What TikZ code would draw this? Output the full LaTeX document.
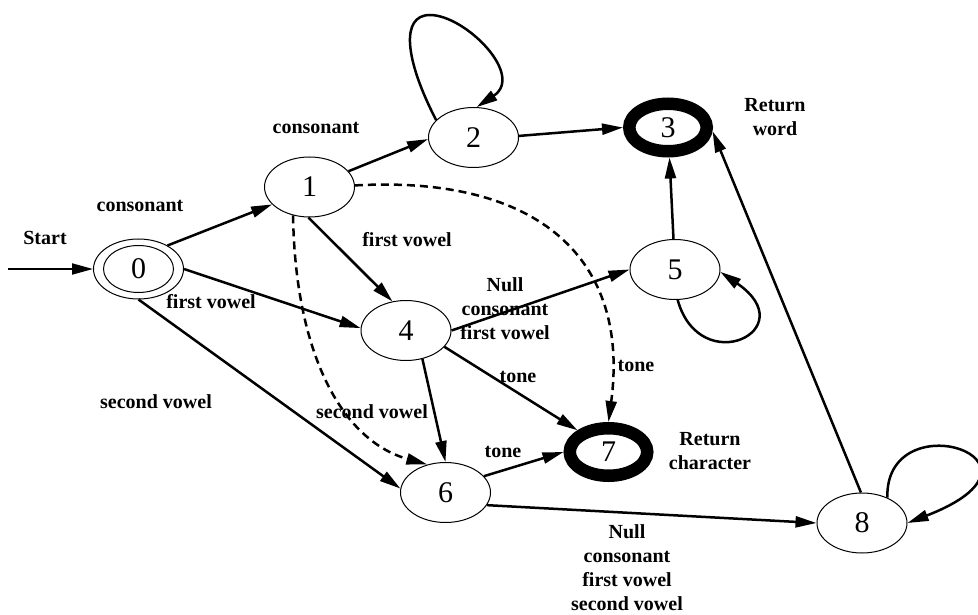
\documentclass[tikz,border=0pt]{standalone}
\usepackage{fontspec}
\setmainfont{Liberation Serif}
\usetikzlibrary{shapes.geometric,arrows.meta}
\begin{document}
\begin{tikzpicture}[x=1pt,y=-1pt,
  state/.style={ellipse,draw,line width=1pt,minimum width=90pt,minimum height=60pt,inner sep=0pt,font=\fontsize{30}{34}\selectfont},
  final/.style={ellipse,draw,line width=12.5pt,minimum width=77.5pt,minimum height=47.5pt,inner sep=0pt,font=\fontsize{30}{34}\selectfont},
  edge/.style={line width=2.5pt,-{Triangle[length=21pt,width=11pt]}},
  dedge/.style={edge,dash pattern=on 8pt off 5pt},
  lbl/.style={font=\bfseries\fontsize{20}{24}\selectfont,align=center,inner sep=0pt}]
\useasboundingbox (0,0) rectangle (978,615);
% states
\node[state] (n0) at (138.5,269) {0};
\draw[line width=1pt] (n0.center) ellipse (35 and 23.5);
\node[state] (n1) at (309.5,187) {1};
\node[state] (n2) at (473.5,137.5) {2};
\node[final] (n3) at (668,127.5) {3};
\node[state] (n4) at (406,330.5) {4};
\node[state] (n5) at (675,269.5) {5};
\node[state] (n6) at (445.5,492.5) {6};
\node[final] (n7) at (608.5,452) {7};
\node[state] (n8) at (862,523) {8};
\coordinate (s) at (8,269);
% edges
\draw[edge,line width=2pt] (s) -- (n0.west);
\draw[edge] (n0.39) -- (n1.205);
\draw[edge] (n0.0) -- (n4.177);
\draw[edge] (n0.270) -- (n6.175);
\draw[edge] (n1.22) -- (n2.182);
\draw[edge] (n1.268) -- (n4.115);
\draw[dedge] (n1.2) .. controls (540,175) and (630,260) .. (n7.north);
\draw[dedge] (n1.240) .. controls (295,350) and (340,440) .. (n6.123);
\draw[edge] (n2.155) .. controls (405,60) and (400,15) .. (430,15) .. controls (465,15) and (525,75) .. (n2.84);
\draw[edge] (n2.2) -- (n3.west);
\draw[edge] (n5) -- (n3);
\draw[edge] (n8.92) -- (n3.355);
\draw[edge] (n4.0) -- (n5.west);
\draw[edge] (n4.300) -- (n6.north);
\draw[edge] (n4.337) -- (n7.145);
\draw[edge] (n5.275) .. controls (700,380) and (805,330) .. (n5.357);
\draw[edge] (n6.23) -- (n7.west);
\draw[edge] (n6.343) -- (n8.west);
\draw[edge] (n8.45) .. controls (885,400) and (1070,460) .. (n8.0);
% labels
\node[lbl] (lstart) at (45,238) {Start};
\node[lbl] (lc1) at (140,206) {consonant};
\node[lbl] (lc2) at (316,128) {consonant};
\node[lbl] (lf1) at (211,302) {first vowel};
\node[lbl] (lf2) at (407,240) {first vowel};
\node[lbl] (ls1) at (156,402) {second vowel};
\node[lbl] (lncf) at (505,309) {Null\\consonant\\first vowel};
\node[lbl] (lt1) at (518,377) {tone};
\node[lbl] (lt2) at (636,366) {tone};
\node[lbl] (ls2) at (372,412) {second vowel};
\node[lbl] (lt3) at (503,452) {tone};
\node[lbl] (lrw) at (775,117) {Return\\word};
\node[lbl] (lrc) at (710,451) {Return\\character};
\node[lbl] (lncfs) at (627,568) {Null\\consonant\\first vowel\\second vowel};
\end{tikzpicture}
\end{document}
